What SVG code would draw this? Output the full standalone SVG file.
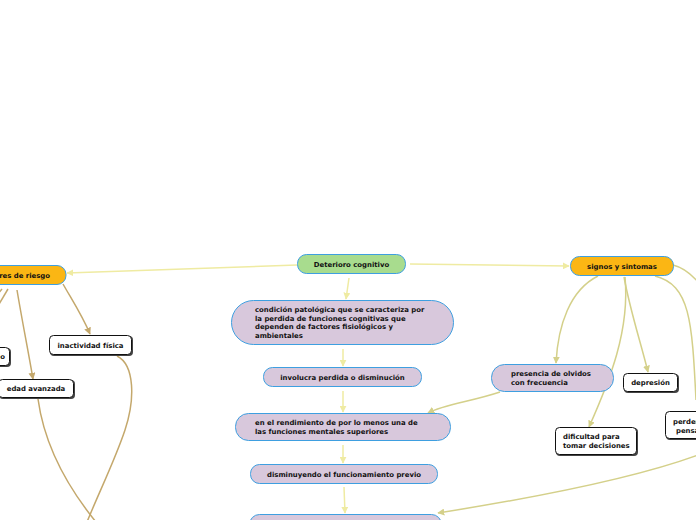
<svg xmlns="http://www.w3.org/2000/svg" width="696" height="520" viewBox="0 0 696 520">
<style>
text{font-family:"DejaVu Sans","Verdana",sans-serif;font-weight:bold;font-size:6.9px;fill:#111}
.c{text-anchor:middle}
.e{text-anchor:end}
.lil{fill:#d8c8dc;stroke:#3e9fe0;stroke-width:1}
.org{fill:#fbb614;stroke:#3e9fe0;stroke-width:1}
.grn{fill:#a8dc8e;stroke:#3e9fe0;stroke-width:1}
.wht{fill:#fff;stroke:#111;stroke-width:1}
.sh{fill:#444}
.ly{fill:none;stroke:#efeba2;stroke-width:1.5}
.ol{fill:none;stroke:#d4d08a;stroke-width:1.5}
.tn{fill:none;stroke:#c4a86c;stroke-width:1.5}
</style>
<defs>
<marker id="aY" viewBox="0 0 10 10" refX="9" refY="5" markerWidth="7" markerHeight="7" orient="auto" markerUnits="userSpaceOnUse"><path d="M0,0 L10,5 L0,10 z" fill="#efeba2"/></marker>
<marker id="aO" viewBox="0 0 10 10" refX="9" refY="5" markerWidth="7" markerHeight="7" orient="auto" markerUnits="userSpaceOnUse"><path d="M0,0 L10,5 L0,10 z" fill="#d4d08a"/></marker>
<marker id="aT" viewBox="0 0 10 10" refX="9" refY="5" markerWidth="7" markerHeight="7" orient="auto" markerUnits="userSpaceOnUse"><path d="M0,0 L10,5 L0,10 z" fill="#c4a86c"/></marker>
</defs>
<g id="connectors">
<path class="ly" d="M297,265 L67,273" marker-end="url(#aY)"/>
<path class="ly" d="M410,264 L569,266" marker-end="url(#aY)"/>
<path class="ly" d="M349,278 L346,299" marker-end="url(#aY)"/>
<path class="ly" d="M343,349 L343,366" marker-end="url(#aY)"/>
<path class="ly" d="M343,391 L343,412" marker-end="url(#aY)"/>
<path class="ly" d="M343,445 L343,463" marker-end="url(#aY)"/>
<path class="ly" d="M344,487 L345,513" marker-end="url(#aY)"/>
<path class="ol" d="M500,392 C470,402 445,404 428,413" marker-end="url(#aO)"/>
<path class="ol" d="M598,276 C570,290 558,325 556,363" marker-end="url(#aO)"/>
<path class="ol" d="M624,277 C630,310 640,340 648,372" marker-end="url(#aO)"/>
<path class="ol" d="M625,277 C630,330 610,380 589,427" marker-end="url(#aO)"/>
<path class="ol" d="M655,276 C690,285 692,320 696,400"/>
<path class="ol" d="M673,265 C685,268 692,275 698,282"/>
<path class="ol" d="M698,455 C630,480 520,500 438,513" marker-end="url(#aO)"/>
<path class="tn" d="M63,284 C72,300 82,315 90,334" marker-end="url(#aT)"/>
<path class="tn" d="M17,290 C22,320 28,350 33,379" marker-end="url(#aT)"/>
<path class="tn" d="M8,289 L-2,306"/>
<path class="tn" d="M2,289 L-4,296"/>
<path class="tn" d="M117,356 C135,365 135,400 125,430 C115,460 100,490 87,522"/>
<path class="tn" d="M38,399 C45,450 70,490 96,522"/>
</g>
<g id="n-deterioro"><rect class="grn" x="297.5" y="254.5" width="108" height="19" rx="9"/><text class="c" x="351.5" y="266.5">Deterioro cognitivo</text></g>
<g id="n-factores"><rect class="org" x="-60" y="265.5" width="126" height="19" rx="9"/><text class="e" x="50" y="277.5">factores de riesgo</text></g>
<g id="n-condicion"><rect class="lil" x="231.5" y="300.5" width="222" height="44" rx="22"/>
<text x="255" y="312">condición patológica que se caracteriza por</text>
<text x="255" y="320.5">la perdida de funciones cognitivas que</text>
<text x="255" y="329">dependen de factores fisiológicos y</text>
<text x="255" y="337.5">ambientales</text></g>
<g id="n-involucra"><rect class="lil" x="263.5" y="367.5" width="158" height="19" rx="9"/><text class="c" x="342.5" y="379.5">involucra perdida o disminución</text></g>
<g id="n-rendimiento"><rect class="lil" x="235.5" y="413.5" width="215" height="27" rx="13"/>
<text x="255" y="425">en el rendimiento de por lo menos una de</text>
<text x="255" y="433.5">las funciones mentales superiores</text></g>
<g id="n-disminuyendo"><rect class="lil" x="250.5" y="464.5" width="187" height="19" rx="9"/><text class="c" x="344" y="476.5">disminuyendo el funcionamiento previo</text></g>
<g id="n-bottom"><rect class="lil" x="249.5" y="514.5" width="192" height="30" rx="10"/></g>
<g id="n-signos"><rect class="org" x="570.5" y="256.5" width="103" height="19" rx="9"/><text class="c" x="622" y="268.5">signos y sintomas</text></g>
<g id="n-presencia"><rect class="lil" x="491.5" y="364.5" width="122" height="27" rx="13"/>
<text x="511" y="376">presencia de olvidos</text>
<text x="511" y="384.5">con frecuencia</text></g>
<g id="n-depresion"><rect class="sh" x="624" y="374" width="55" height="19" rx="4"/><rect class="wht" x="623.5" y="373.5" width="54" height="18" rx="4"/><text class="c" x="650.5" y="384.5">depresión</text></g>
<g id="n-dificultad"><rect class="sh" x="556" y="428" width="82" height="28" rx="4"/><rect class="wht" x="555.5" y="427.5" width="81" height="27" rx="4"/>
<text x="563" y="439">dificultad para</text>
<text x="563" y="447.5">tomar decisiones</text></g>
<g id="n-perder"><rect class="sh" x="666" y="412" width="60" height="28" rx="4"/><rect class="wht" x="665.5" y="411.5" width="59" height="27" rx="4"/>
<text x="673" y="424">perder la</text>
<text x="676" y="432.5">pensamiento</text></g>
<g id="n-inactividad"><rect class="sh" x="50" y="336" width="83" height="20" rx="4"/><rect class="wht" x="49.5" y="335.5" width="82" height="19" rx="4"/><text class="c" x="90.5" y="347.5">inactividad física</text></g>
<g id="n-edad"><rect class="sh" x="-1" y="380" width="76" height="19" rx="4"/><rect class="wht" x="-1.5" y="379.5" width="75" height="18" rx="4"/><text class="c" x="36" y="390.5">edad avanzada</text></g>
<g id="n-left"><rect class="sh" x="-40" y="348" width="51" height="19" rx="4"/><rect class="wht" x="-40.5" y="347.5" width="50" height="18" rx="4"/><text class="e" x="5" y="358.5">tabaquismo</text></g>
</svg>
